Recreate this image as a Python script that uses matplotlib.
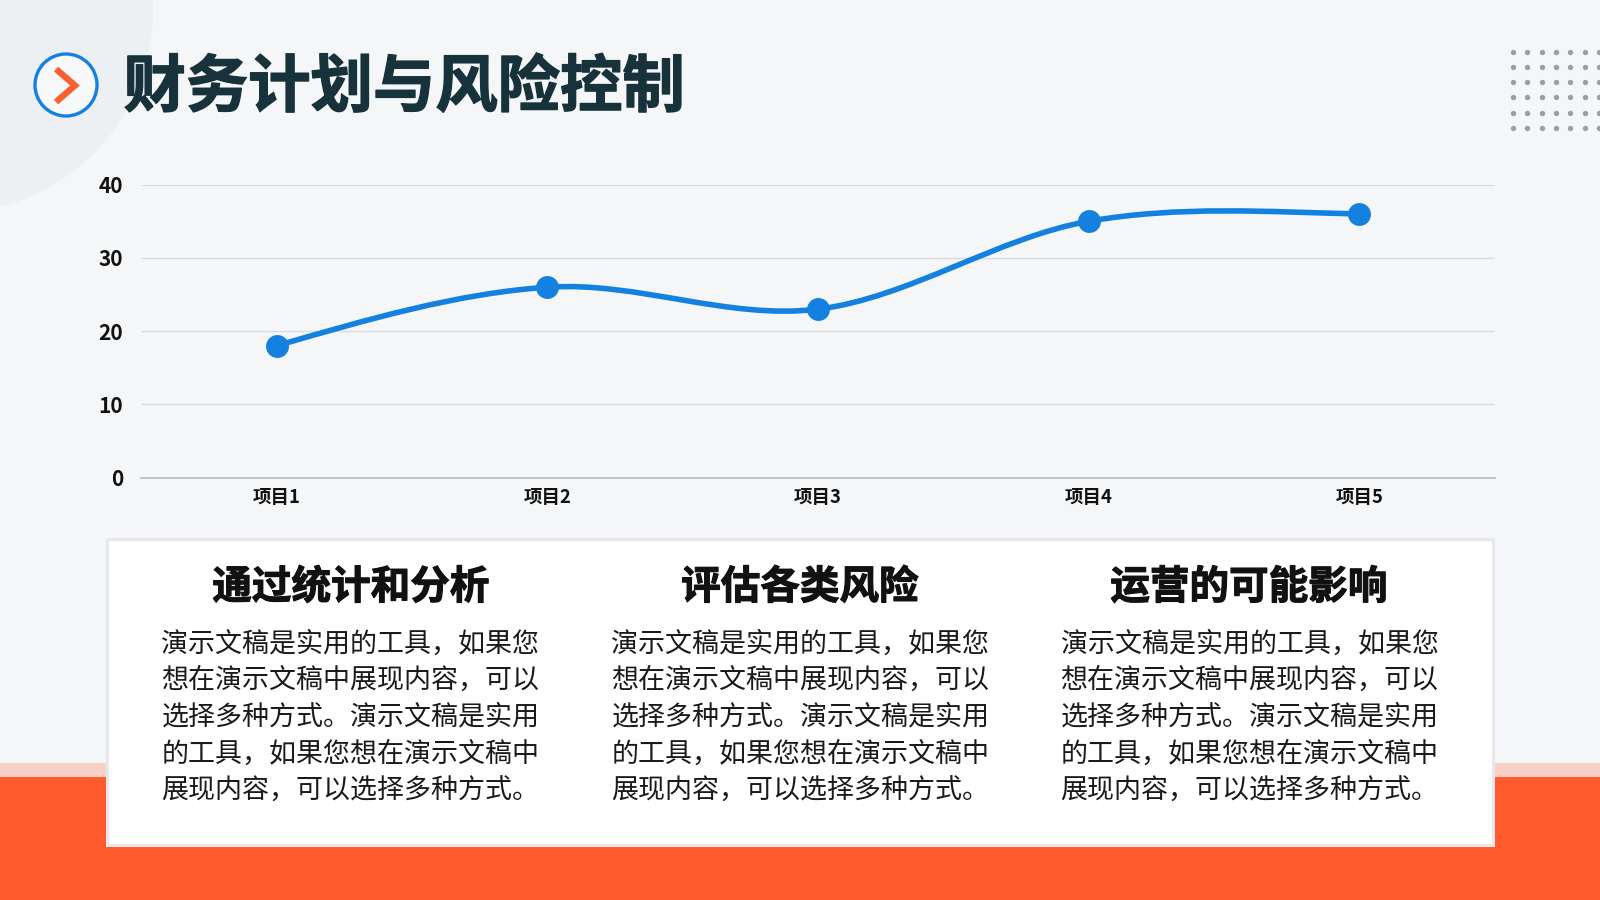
import matplotlib
matplotlib.use("Agg")
import matplotlib.pyplot as plt
import numpy as np
from matplotlib.patches import Circle, Rectangle, PathPatch
from matplotlib.path import Path
from matplotlib import patheffects as pe

plt.rcParams['font.family'] = ['Noto Sans CJK SC', 'DejaVu Sans']

# data
categories = ["项目1", "项目2", "项目3", "项目4", "项目5"]
values = [18, 26, 23, 35, 36]
y_ticks = [0, 10, 20, 30, 40]

title = "财务计划与风险控制"
card_titles = ["通过统计和分析", "评估各类风险", "运营的可能影响"]
card_lines = ["演示文稿是实用的工具，如果您",
              "想在演示文稿中展现内容，可以",
              "选择多种方式。演示文稿是实用",
              "的工具，如果您想在演示文稿中",
              "展现内容，可以选择多种方式。"]

BG = "#F4F6F8"
ORANGE = "#FF5A2D"
BLUE = "#1480DF"

fig = plt.figure(figsize=(16, 9), dpi=100, facecolor=BG)

# background layer in pixel coordinates
bg = fig.add_axes([0, 0, 1, 1], zorder=0)
bg.set_xlim(0, 1600)
bg.set_ylim(900, 0)
bg.axis("off")

bg.add_patch(Circle((-50, 10), 203, fc="#ECF0F3", ec="none"))
bg.add_patch(Rectangle((0, 762.5), 1600, 14.5, fc="#F8D0C6", ec="none"))
bg.add_patch(Rectangle((0, 777), 1600, 123, fc=ORANGE, ec="none"))

# icon
bg.add_patch(Circle((66, 85), 31, fc="#F7F9FB", ec=BLUE, lw=2.4))
bg.plot([56, 75, 56], [69, 85.5, 102], color="#F9602F", lw=4.6,
        solid_joinstyle="miter", solid_capstyle="butt")

bg.text(123.5, 88, title, fontsize=44.9, fontweight="bold", color="#17323A",
        ha="left", va="center",
        path_effects=[pe.withStroke(linewidth=1.0, foreground="#17323A")])

# dots top right
dot_x = 1512.7 + 14.4 * np.arange(7)
dot_y = 51.7 + 15.2 * np.arange(6)
xx, yy = np.meshgrid(dot_x, dot_y)
bg.scatter(xx.ravel(), yy.ravel(), s=15, color="#9C9EA0", linewidths=0)

# cards
bg.add_patch(Rectangle((107, 538.5), 1385.5, 306, fc="white", ec="#E6E8EB", lw=2.2, zorder=3))
card_x = [161.5, 611.5, 1060.5]
title_x = [351, 800, 1249]
line_y = [644, 680.6, 717.3, 754, 790.8]
for i in range(3):
    bg.text(title_x[i], 587.5, card_titles[i], fontsize=28.5, fontweight="bold",
            color="#111111", ha="center", va="center", zorder=4,
            path_effects=[pe.withStroke(linewidth=0.8, foreground="#111111")])
    for ln, y in zip(card_lines, line_y):
        bg.text(card_x[i], y, ln, fontsize=19.45, color="#1A1A1A",
                ha="left", va="center", zorder=4)

# chart
ax = fig.add_axes([141.3 / 1600, 1 - 477.6 / 900, (1494.5 - 141.3) / 1600, (477.6 - 184.7) / 900], zorder=2)
ax.patch.set_alpha(0)
x = np.arange(len(values))
ax.set_xlim(-0.5, 4.5)
ax.set_ylim(0, 40)
ax.set_yticks(y_ticks)
ax.set_xticks(x)
ax.set_xticklabels(categories, fontsize=13.3, fontweight="bold", color="#111111")
ax.tick_params(axis="both", length=0)
ax.tick_params(axis="x", pad=7.5)
ax.tick_params(axis="y", pad=13)
for lab in ax.get_yticklabels():
    lab.set_fontsize(15)
    lab.set_fontweight("bold")
    lab.set_color("#111111")
ax.grid(axis="y", color="#DBDCDF", lw=1)
ax.set_axisbelow(True)
for s in ["top", "left", "right"]:
    ax.spines[s].set_visible(False)
ax.spines["bottom"].set_color("#B4B5B8")
ax.spines["bottom"].set_linewidth(1.1)

# smoothed line through the points, inner tangents from the neighbours,
# end segments relaxed so they run nearly straight
n = len(values)
verts = [(x[0], values[0])]
codes = [Path.MOVETO]
for i in range(n - 1):
    p1 = values[i]
    p2 = values[i + 1]
    c1 = p1 + (p2 - values[i - 1]) / 6 if i > 0 else None
    c2 = p2 - (values[i + 2] - p1) / 6 if i < n - 2 else None
    if c1 is None:
        c1 = (p1 + c2) / 2
    if c2 is None:
        c2 = p2 + (c1 - p2) / 4
    verts += [(x[i] + 1 / 3, c1), (x[i] + 2 / 3, c2), (x[i + 1], p2)]
    codes += [Path.CURVE4] * 3
ax.add_patch(PathPatch(Path(verts, codes), fc="none", ec=BLUE, lw=4, capstyle="round"))
ax.plot(x, values, "o", color=BLUE, ms=16.5, mew=0, clip_on=False, zorder=5)

fig.savefig("out.png", dpi=100, facecolor=BG)
